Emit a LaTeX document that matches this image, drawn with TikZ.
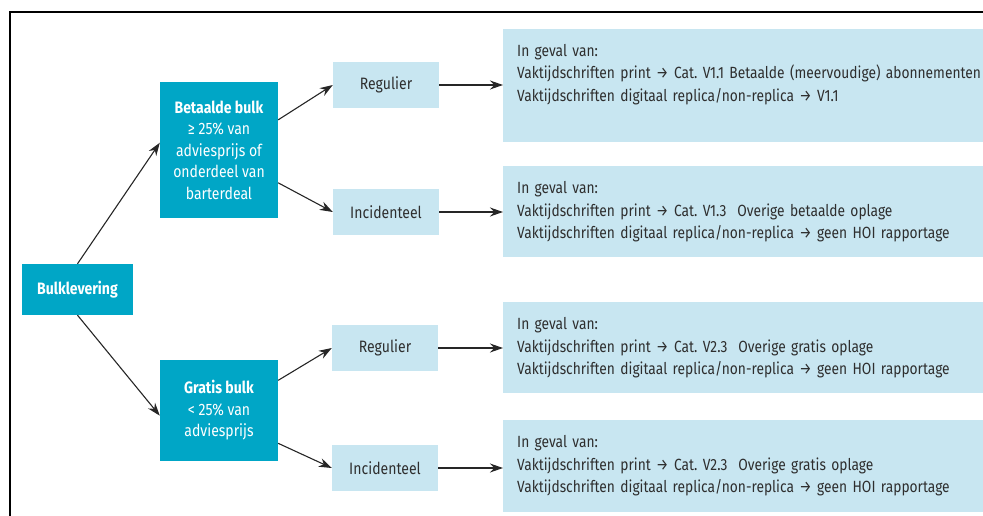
\documentclass[tikz,border=0pt]{standalone}
\usepackage{fontspec}
\setmainfont{Fira Sans}[FakeStretch=0.85]
\usetikzlibrary{arrows.meta}

\definecolor{bulkblue}{HTML}{00A6C6}
\definecolor{paleblue}{HTML}{C8E6F1}
\definecolor{inkgrey}{HTML}{2E2E2E}

\begin{document}
\begin{tikzpicture}[x=1pt,y=-1pt,
    darkbox/.style={fill=bulkblue, text=white, align=center, inner sep=0pt,
        font=\fontsize{16.5}{21.5}\selectfont},
    choicebox/.style={fill=paleblue, text=inkgrey, minimum width=106pt,
        minimum height=46pt, inner sep=0pt, font=\fontsize{16.5}{18}\selectfont},
    infobox/.style={fill=paleblue, anchor=north west, minimum width=520pt, inner sep=0pt},
    infotext/.style={anchor=base west, align=left, text width=560pt, inner sep=0pt,
        text=inkgrey, font=\fontsize{16.2}{22.5}\selectfont},
    flow/.style={-{Stealth[length=13pt,width=9pt]}, line width=1.1pt, draw=black!85}]

    % Fix the page and cut what runs over the right edge
    \useasboundingbox (0,0) rectangle (983,516);
    \clip (0,0) rectangle (983,516);

    % Draw the frame (only top and left are visible)
    \draw[line width=2.2pt] (10,530) -- (10,12) -- (1000,12);

    % Draw the bulk boxes
    \node[darkbox, minimum width=111pt, minimum height=51pt] (bulk) at (77.5,289.5) {\textbf{Bulklevering}};
    \node[darkbox, minimum width=118pt, minimum height=136pt] (paid) at (219,150)
        {\textbf{Betaalde bulk}\\\char"2265{} 25\% van\\adviesprijs of\\onderdeel van\\barterdeal};
    \node[darkbox, minimum width=118pt, minimum height=101pt] (free) at (219,410.5)
        {\textbf{Gratis bulk}\\< 25\% van\\adviesprijs};

    % Draw the choices
    \node[choicebox] (paidreg) at (386,85) {Regulier};
    \node[choicebox] (paidinc) at (386,212) {Incidenteel};
    \node[choicebox] (freereg) at (385,348) {Regulier};
    \node[choicebox] (freeinc) at (385,468) {Incidenteel};

    % Draw the outcome boxes
    \node[infobox, minimum height=113pt] (paidregout) at (503,29) {};
    \node[infobox, minimum height=91pt] (paidincout) at (503,166) {};
    \node[infobox, minimum height=91pt] (freeregout) at (503,302) {};
    \node[infobox, minimum height=92pt] (freeincout) at (503,420) {};

    % Add the outcome texts
    \node[infotext] (paidregtxt) at ([xshift=14pt,yshift=-27.5pt]paidregout.north west)
        {In geval van:\\Vaktijdschriften print \char"2192{} Cat.\ V1.1 Betaalde (meervoudige) abonnementen\\Vaktijdschriften digitaal replica/non-replica \char"2192{} V1.1};
    \node[infotext] (paidinctxt) at ([xshift=14pt,yshift=-27.5pt]paidincout.north west)
        {In geval van:\\Vaktijdschriften print \char"2192{} Cat.\ V1.3\ \ Overige betaalde oplage\\Vaktijdschriften digitaal replica/non-replica \char"2192{} geen HOI rapportage};
    \node[infotext] (freeregtxt) at ([xshift=14pt,yshift=-27.5pt]freeregout.north west)
        {In geval van:\\Vaktijdschriften print \char"2192{} Cat.\ V2.3\ \ Overige gratis oplage\\Vaktijdschriften digitaal replica/non-replica \char"2192{} geen HOI rapportage};
    \node[infotext] (freeinctxt) at ([xshift=14pt,yshift=-27.5pt]freeincout.north west)
        {In geval van:\\Vaktijdschriften print \char"2192{} Cat.\ V2.3\ \ Overige gratis oplage\\Vaktijdschriften digitaal replica/non-replica \char"2192{} geen HOI rapportage};

    % Connect the tree
    \draw[flow] (bulk.north) -- (paid.173);
    \draw[flow] (bulk.south) -- (free.185);
    \draw[flow] (paid.27) -- (paidreg.west);
    \draw[flow] (paid.-29) -- (paidinc.west);
    \draw[flow] (free.27) -- (freereg.west);
    \draw[flow] (free.-29) -- (freeinc.west);

    % Connect the choices to the outcomes
    \draw[flow] (paidreg.east) -- (paidreg.east -| paidregout.west);
    \draw[flow] (paidinc.east) -- (paidinc.east -| paidincout.west);
    \draw[flow] (freereg.east) -- (freereg.east -| freeregout.west);
    \draw[flow] (freeinc.east) -- (freeinc.east -| freeincout.west);

\end{tikzpicture}
\end{document}
